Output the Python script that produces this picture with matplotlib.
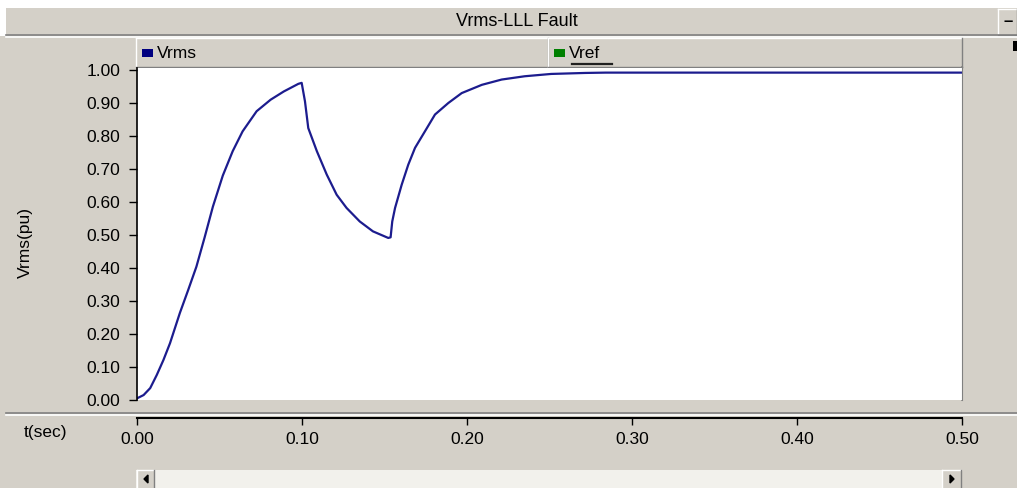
import matplotlib.pyplot as plt
from matplotlib.patches import Rectangle, Polygon

# data
t = [0.000, 0.004, 0.008, 0.012, 0.016, 0.020, 0.026, 0.031, 0.036, 0.041,
     0.046, 0.052, 0.058, 0.064, 0.0725, 0.081, 0.089, 0.0978, 0.0998,
     0.1018, 0.1038, 0.109, 0.115, 0.121, 0.127, 0.135, 0.143, 0.1523,
     0.1537, 0.1547, 0.1564, 0.1604, 0.1644, 0.1685, 0.1745, 0.1806,
     0.1887, 0.1968, 0.209, 0.221, 0.235, 0.251, 0.2715, 0.284, 0.500]
vrms = [0.005, 0.015, 0.036, 0.076, 0.121, 0.172, 0.264, 0.333, 0.404, 0.493,
        0.586, 0.680, 0.754, 0.814, 0.875, 0.910, 0.935, 0.958, 0.961,
        0.905, 0.824, 0.754, 0.683, 0.622, 0.582, 0.541, 0.511, 0.491,
        0.493, 0.541, 0.582, 0.652, 0.713, 0.764, 0.814, 0.865,
        0.900, 0.930, 0.955, 0.971, 0.981, 0.988, 0.991, 0.992, 0.992]
yticks = [0.0, 0.1, 0.2, 0.3, 0.4, 0.5, 0.6, 0.7, 0.8, 0.9, 1.0]
xticks = [0.0, 0.1, 0.2, 0.3, 0.4, 0.5]
title = 'Vrms-LLL Fault'
names = ['Vrms', 'Vref']
swatch_colors = ['#000080', '#008000']
line_color = '#1c1c8e'

W, H = 1017, 488
BG = '#D4D0C8'
DARK = '#808080'
plt.rcParams['font.family'] = ['Liberation Sans', 'DejaVu Sans']
plt.rcParams['font.size'] = 12.5

fig = plt.figure(figsize=(W / 100, H / 100), dpi=100, facecolor=BG)


def rect(x0, y0, x1, y1):
    return [x0 / W, 1 - y1 / H, (x1 - x0) / W, (y1 - y0) / H]


# window decoration drawn in pixel coordinates
deco = fig.add_axes([0, 0, 1, 1], zorder=0)
deco.set_xlim(0, W)
deco.set_ylim(H, 0)
deco.axis('off')


def box(x0, y0, x1, y1, face=BG, raised=True):
    deco.add_patch(Rectangle((x0, y0), x1 - x0, y1 - y0, facecolor=face, edgecolor='none'))
    hi, lo = ('white', DARK) if raised else (DARK, 'white')
    deco.plot([x0, x1], [y0, y0], color=hi, lw=1)
    deco.plot([x0, x0], [y0, y1], color=hi, lw=1)
    deco.plot([x0, x1], [y1, y1], color=lo, lw=1)
    deco.plot([x1, x1], [y0, y1], color=lo, lw=1)


deco.add_patch(Rectangle((0, 0), W, 8, facecolor='white', edgecolor='none'))
deco.add_patch(Rectangle((0, 0), 6, 36, facecolor='white', edgecolor='none'))
# title bar
deco.text(517, 21, title, ha='center', va='center', fontsize=13)
box(998, 9, 1017, 35)
deco.text(1008, 22, '–', ha='center', va='center', fontsize=12, fontweight='bold')
for y, c in [(35, DARK), (36.5, 'white'), (413, DARK), (414.5, 'white')]:
    deco.plot([6, W], [y, y], color=c, lw=1.2)

# legend cells
cells = [(136, 548), (548, 962)]
for (x0, x1), name, col in zip(cells, names, swatch_colors):
    box(x0, 38, x1, 67)
    deco.add_patch(Rectangle((x0 + 6, 49), 11, 8, facecolor=col, edgecolor='none'))
    deco.text(x0 + 21, 53, name, ha='left', va='center', fontsize=12.5)
deco.plot([572, 612], [64, 64], color='#202020', lw=1.6)
deco.plot([962, 962], [67, 400], color=DARK, lw=1.2)
deco.add_patch(Rectangle((1013, 41), 4, 10, facecolor='black', edgecolor='none'))

# scrollbar
deco.add_patch(Rectangle((136, 470), 826, 18, facecolor='#F2F1EC', edgecolor='none'))
box(137, 470, 154, 490)
box(942, 470, 961, 490)
deco.add_patch(Polygon([[144, 479], [148, 475], [148, 483]], closed=True, color='black'))
deco.add_patch(Polygon([[954, 479], [950, 475], [950, 483]], closed=True, color='black'))

fig.text(25 / W, 1 - 242 / H, 'Vrms(pu)', rotation=90, ha='center', va='center', fontsize=12.5)
fig.text(46 / W, 1 - 433 / H, 't(sec)', ha='center', va='center', fontsize=12.5)

# main plot area
ax = fig.add_axes(rect(137, 68, 962, 400), zorder=2)
ax.set_facecolor('white')
ax.plot(t, vrms, color=line_color, lw=1.6)
ax.set_xlim(0, 0.5)
ax.set_ylim(0, 1.006)
ax.set_yticks(yticks)
ax.set_yticklabels(['%.2f' % v for v in yticks])
ax.set_xticks([])
ax.tick_params(axis='y', direction='out', length=6, width=1, pad=6, colors='black')
for s in ['top', 'bottom']:
    ax.spines[s].set_visible(False)
ax.spines['right'].set_color(DARK)
ax.spines['left'].set_color('black')
ax.spines['left'].set_linewidth(1.2)

# time axis below the plot
tx = fig.add_axes(rect(137, 417, 962, 418), zorder=2)
tx.patch.set_visible(False)
tx.set_xlim(0, 0.5)
tx.set_yticks([])
tx.set_xticks(xticks)
tx.set_xticklabels(['%.2f' % v for v in xticks])
tx.tick_params(axis='x', direction='out', length=5, width=1, pad=5)
for s in ['top', 'left', 'right']:
    tx.spines[s].set_visible(False)
tx.spines['bottom'].set_linewidth(1.5)

fig.savefig('out.png', dpi=100, facecolor=BG)
